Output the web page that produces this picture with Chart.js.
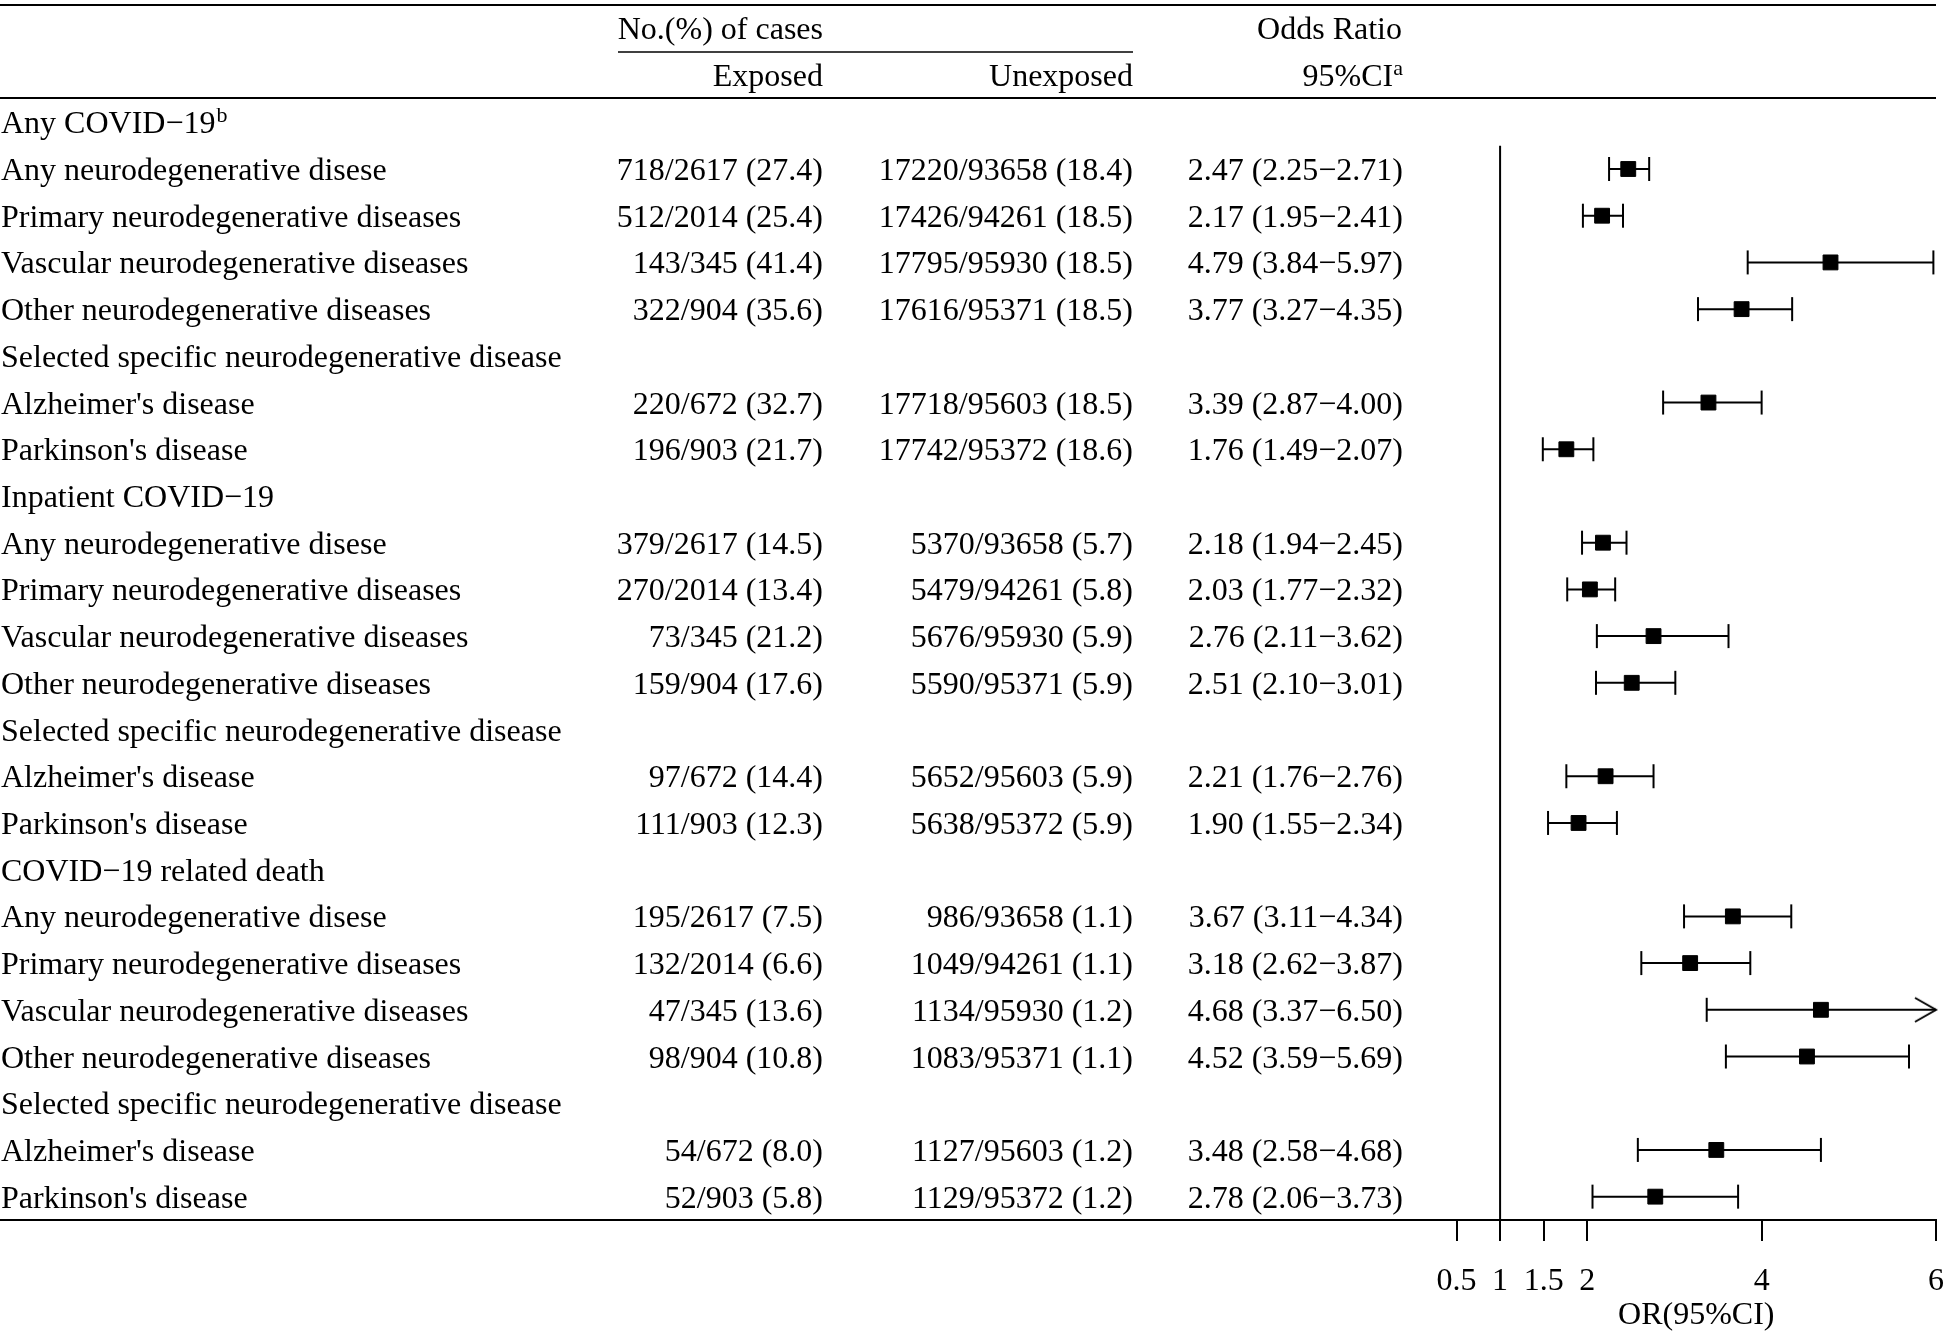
<!DOCTYPE html>
<html>
<head>
<meta charset="utf-8">
<script src="https://cdn.jsdelivr.net/npm/chart.js@4.4.1/dist/chart.umd.min.js"></script>
<style>
html,body{margin:0;padding:0;background:#fff;overflow:hidden}
#wrap{width:1950px;height:1332px;position:relative}
</style>
</head>
<body>
<div id="wrap"><canvas id="c" width="1950" height="1332"></canvas></div>
<script>
// ---------- data ----------
const rowLabels = [
  "Any COVID\u221219",
  "Any neurodegenerative disese",
  "Primary neurodegenerative diseases",
  "Vascular neurodegenerative diseases",
  "Other neurodegenerative diseases",
  "Selected specific neurodegenerative disease",
  "Alzheimer's disease",
  "Parkinson's disease",
  "Inpatient COVID\u221219",
  "Any neurodegenerative disese",
  "Primary neurodegenerative diseases",
  "Vascular neurodegenerative diseases",
  "Other neurodegenerative diseases",
  "Selected specific neurodegenerative disease",
  "Alzheimer's disease",
  "Parkinson's disease",
  "COVID\u221219 related death",
  "Any neurodegenerative disese",
  "Primary neurodegenerative diseases",
  "Vascular neurodegenerative diseases",
  "Other neurodegenerative diseases",
  "Selected specific neurodegenerative disease",
  "Alzheimer's disease",
  "Parkinson's disease"
];
const rowSuperscripts = ["b","","","","","","","","","","","","","","","","","","","","","","",""];
const exposedCases = [
  "", "718/2617 (27.4)", "512/2014 (25.4)", "143/345 (41.4)", "322/904 (35.6)", "",
  "220/672 (32.7)", "196/903 (21.7)",
  "", "379/2617 (14.5)", "270/2014 (13.4)", "73/345 (21.2)", "159/904 (17.6)", "",
  "97/672 (14.4)", "111/903 (12.3)",
  "", "195/2617 (7.5)", "132/2014 (6.6)", "47/345 (13.6)", "98/904 (10.8)", "",
  "54/672 (8.0)", "52/903 (5.8)"
];
const unexposedCases = [
  "", "17220/93658 (18.4)", "17426/94261 (18.5)", "17795/95930 (18.5)", "17616/95371 (18.5)", "",
  "17718/95603 (18.5)", "17742/95372 (18.6)",
  "", "5370/93658 (5.7)", "5479/94261 (5.8)", "5676/95930 (5.9)", "5590/95371 (5.9)", "",
  "5652/95603 (5.9)", "5638/95372 (5.9)",
  "", "986/93658 (1.1)", "1049/94261 (1.1)", "1134/95930 (1.2)", "1083/95371 (1.1)", "",
  "1127/95603 (1.2)", "1129/95372 (1.2)"
];
const oddsRatio = [null, 2.47, 2.17, 4.79, 3.77, null, 3.39, 1.76,
                   null, 2.18, 2.03, 2.76, 2.51, null, 2.21, 1.90,
                   null, 3.67, 3.18, 4.68, 4.52, null, 3.48, 2.78];
const ciLower   = [null, 2.25, 1.95, 3.84, 3.27, null, 2.87, 1.49,
                   null, 1.94, 1.77, 2.11, 2.10, null, 1.76, 1.55,
                   null, 3.11, 2.62, 3.37, 3.59, null, 2.58, 2.06];
const ciUpper   = [null, 2.71, 2.41, 5.97, 4.35, null, 4.00, 2.07,
                   null, 2.45, 2.32, 3.62, 3.01, null, 2.76, 2.34,
                   null, 4.34, 3.87, 6.50, 5.69, null, 4.68, 3.73];
const xTickValues = [0.5, 1, 1.5, 2, 4, 6];
const xAxisTitle = "OR(95%CI)";
const headerGroup = "No.(%) of cases";
const headerExposed = "Exposed";
const headerUnexposed = "Unexposed";
const headerOR = "Odds Ratio";
const headerCI = "95%CI";
const headerCISup = "a";
const referenceValue = 1;

// ---------- styling ----------
const FONT = "'Liberation Serif', 'Times New Roman', serif";
const X_MIN = 0.5, X_MAX = 6;
const MINUS = "\u2212";

function orText(i) {
  if (oddsRatio[i] == null) return "";
  return oddsRatio[i].toFixed(2) + " (" + ciLower[i].toFixed(2) + MINUS + ciUpper[i].toFixed(2) + ")";
}

// arrow head image for truncated CI
function makeArrow() {
  const c = document.createElement('canvas');
  c.width = 46; c.height = 30;
  const g = c.getContext('2d');
  g.strokeStyle = '#000'; g.lineWidth = 2;
  g.beginPath();
  g.moveTo(2, 3); g.lineTo(23, 15); g.lineTo(2, 27);
  g.stroke();
  return c;
}
const arrowImg = makeArrow();

// Build datasets
const markerData = [];
const ciData = [];
const ciStyles = [], ciRadii = [], ciRot = [];
for (let i = 0; i < rowLabels.length; i++) {
  if (oddsRatio[i] == null) continue;
  markerData.push({x: oddsRatio[i], y: i});
  const hi = Math.min(ciUpper[i], X_MAX);
  ciData.push({x: ciLower[i], y: i});
  ciStyles.push('line'); ciRadii.push(12); ciRot.push(90);
  ciData.push({x: hi, y: i});
  if (ciUpper[i] > X_MAX) { ciStyles.push(arrowImg); ciRadii.push(12); ciRot.push(0); }
  else { ciStyles.push('line'); ciRadii.push(12); ciRot.push(90); }
  ciData.push({x: null, y: null});
  ciStyles.push('line'); ciRadii.push(0); ciRot.push(0);
}

const tablePlugin = {
  id: 'tablePlugin',
  afterDraw(chart) {
    const ctx = chart.ctx;
    const ys = chart.scales.y;
    const area = chart.chartArea;
    const colExposed = 823, colUnexposed = 1133, colOR = 1403;
    ctx.save();
    ctx.fillStyle = '#000';
    ctx.strokeStyle = '#000';
    ctx.textBaseline = 'alphabetic';
    const main = '32px ' + FONT, sup = '22px ' + FONT;

    // rules
    ctx.lineWidth = 2;
    ctx.beginPath(); ctx.moveTo(0, 5); ctx.lineTo(area.right, 5); ctx.stroke();
    ctx.beginPath(); ctx.moveTo(0, area.top); ctx.lineTo(area.right, area.top); ctx.stroke();
    ctx.beginPath(); ctx.moveTo(0, area.bottom); ctx.lineTo(area.right, area.bottom); ctx.stroke();
    ctx.lineWidth = 1.5;
    ctx.beginPath(); ctx.moveTo(618, 52); ctx.lineTo(colUnexposed, 52); ctx.stroke();

    // header
    ctx.font = main;
    ctx.textAlign = 'right';
    ctx.fillText(headerGroup, colExposed, 39);
    ctx.fillText(headerExposed, colExposed, 86);
    ctx.fillText(headerUnexposed, colUnexposed, 86);
    ctx.fillText(headerOR, colOR - 1, 39);
    ctx.font = sup;
    const sw = ctx.measureText(headerCISup).width;
    ctx.textAlign = 'left';
    ctx.fillText(headerCISup, colOR - sw, 75);
    ctx.font = main;
    ctx.textAlign = 'right';
    ctx.fillText(headerCI, colOR - sw, 86);

    // rows
    for (let i = 0; i < rowLabels.length; i++) {
      const y = ys.getPixelForValue(i) + 11;
      ctx.font = main;
      ctx.textAlign = 'left';
      ctx.fillText(rowLabels[i], 1, y);
      if (rowSuperscripts[i]) {
        const w = ctx.measureText(rowLabels[i]).width;
        ctx.font = sup;
        ctx.fillText(rowSuperscripts[i], 1 + w + 1, y - 11);
        ctx.font = main;
      }
      ctx.textAlign = 'right';
      if (exposedCases[i]) ctx.fillText(exposedCases[i], colExposed, y);
      if (unexposedCases[i]) ctx.fillText(unexposedCases[i], colUnexposed, y);
      const t = orText(i);
      if (t) ctx.fillText(t, colOR, y);
    }
    ctx.restore();
  }
};

new Chart(document.getElementById('c'), {
  type: 'scatter',
  data: {
    datasets: [
      {
        label: 'OR',
        data: markerData,
        pointStyle: 'rect',
        pointRadius: 10.5,
        pointHoverRadius: 10.5,
        pointBorderWidth: 1,
        backgroundColor: '#000',
        borderColor: '#000',
        showLine: false,
        clip: false,
        order: 0
      },
      {
        label: 'CI',
        data: ciData,
        showLine: true,
        spanGaps: false,
        borderColor: '#000',
        borderWidth: 2,
        pointStyle: ciStyles,
        pointRadius: ciRadii,
        pointHoverRadius: ciRadii,
        pointRotation: ciRot,
        pointBorderWidth: 2,
        pointBorderColor: '#000',
        pointBackgroundColor: '#000',
        clip: false,
        order: 1
      },
      {
        label: 'ref',
        data: [{x: referenceValue, y: 0.5}, {x: referenceValue, y: 23.5}],
        showLine: true,
        borderColor: '#000',
        borderWidth: 2,
        pointRadius: 0,
        clip: false,
        order: 2
      }
    ]
  },
  options: {
    responsive: false,
    animation: false,
    devicePixelRatio: 1,
    events: [],
    layout: { padding: { left: 1456.5, right: 9, top: 98, bottom: 0 } },
    plugins: { legend: { display: false }, tooltip: { enabled: false }, title: { display: false } },
    scales: {
      x: {
        type: 'linear',
        position: 'bottom',
        min: X_MIN,
        max: X_MAX,
        afterBuildTicks: s => { s.ticks = xTickValues.map(v => ({ value: v })); },
        afterFit: s => { s.height = 112; s.paddingLeft = 0; s.paddingRight = 0; },
        ticks: {
          autoSkip: false,
          maxRotation: 0,
          padding: 21,
          color: '#000',
          font: { family: FONT, size: 32 },
          callback: v => String(v)
        },
        grid: { display: true, drawOnChartArea: false, drawTicks: true, tickLength: 21, color: '#000', lineWidth: 2 },
        border: { display: true, color: '#000', width: 2 },
        title: { display: true, text: xAxisTitle, color: '#000', font: { family: FONT, size: 32, lineHeight: '32px' }, padding: 0 }
      },
      y: {
        type: 'linear',
        reverse: true,
        min: -0.52,
        max: 23.5,
        display: false
      }
    }
  },
  plugins: [tablePlugin]
});
</script>
</body>
</html>
